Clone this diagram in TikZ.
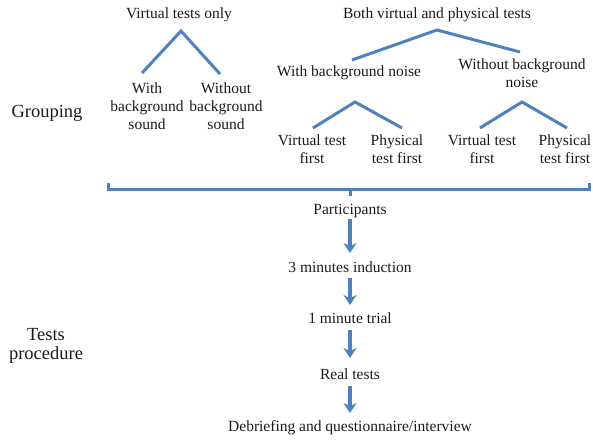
\documentclass[tikz,border=0pt]{standalone}
\usepackage{fontspec}
\setmainfont{Liberation Serif}
\usetikzlibrary{arrows.meta}
\definecolor{lineblue}{HTML}{4F81BD}
\definecolor{txt}{HTML}{1A1A1A}
\tikzset{
  lbl/.style={inner sep=0pt, align=center, text=txt, font=\fontsize{15.5}{18}\selectfont},
  side/.style={inner sep=0pt, align=center, text=txt, font=\fontsize{18.5}{19}\selectfont},
  branch/.style={draw=lineblue, line width=3pt},
  flow/.style={draw=lineblue, line width=3.2pt, -{Stealth[length=10pt,width=13pt]}},
}
\begin{document}
\begin{tikzpicture}[x=1pt,y=-1pt]
\useasboundingbox (0,0) rectangle (593,439);
% left tree
\node[lbl] (vto) at (179,15) {Virtual tests only};
\node[lbl] (wbs) at (147,106) {With\\background\\sound};
\node[lbl] (wobs) at (226,106) {Without\\background\\sound};
\coordinate (a1) at (181,31);
\coordinate (a1l) at (142,73);
\coordinate (a1r) at (220,74);
\draw[branch] (a1l) -- (a1) -- (a1r);
% right tree
\node[lbl] (bvp) at (437,15) {Both virtual and physical tests};
\node[lbl] (wbn) at (349,73) {With background noise};
\node[lbl] (wobn) at (522,73) {Without background\\noise};
\coordinate (a2) at (437,30);
\coordinate (a2l) at (352,60);
\coordinate (a2r) at (520,52);
\draw[branch] (a2l) -- (a2) -- (a2r);
\node[lbl] (vf1) at (312,149) {Virtual test\\first};
\node[lbl] (pf1) at (397,149) {Physical\\test first};
\node[lbl] (vf2) at (482,149) {Virtual test\\first};
\node[lbl] (pf2) at (565,149) {Physical\\test first};
\coordinate (a3) at (355,102);
\coordinate (a3l) at (313,128);
\coordinate (a3r) at (402,128);
\draw[branch] (a3l) -- (a3) -- (a3r);
\coordinate (a4) at (522,102);
\coordinate (a4l) at (480,128);
\coordinate (a4r) at (567,128);
\draw[branch] (a4l) -- (a4) -- (a4r);
% brace
\coordinate (bl) at (108,183);
\coordinate (br) at (589,183);
\coordinate (bm) at (350,189);
\coordinate (bt) at (350,196);
\draw[branch, line cap=butt] (bl) -- (108,189) -- (589,189) -- (br);
\draw[branch] (bm) -- (bt);
% procedure
\node[lbl] (par) at (350,211) {Participants};
\node[lbl] (ind) at (350,267) {3 minutes induction};
\node[lbl] (tri) at (350,318) {1 minute trial};
\node[lbl] (rea) at (350,374) {Real tests};
\node[lbl] (deb) at (350,428) {Debriefing and questionnaire/interview};
\draw[flow] (350,219) -- (350,253);
\draw[flow] (350,278) -- (350,305);
\draw[flow] (350,330) -- (350,358);
\draw[flow] (350,386) -- (350,413);
% side labels
\node[side] (grp) at (47,113) {Grouping};
\node[side] (tp) at (46,346) {Tests\\procedure};
\end{tikzpicture}
\end{document}
